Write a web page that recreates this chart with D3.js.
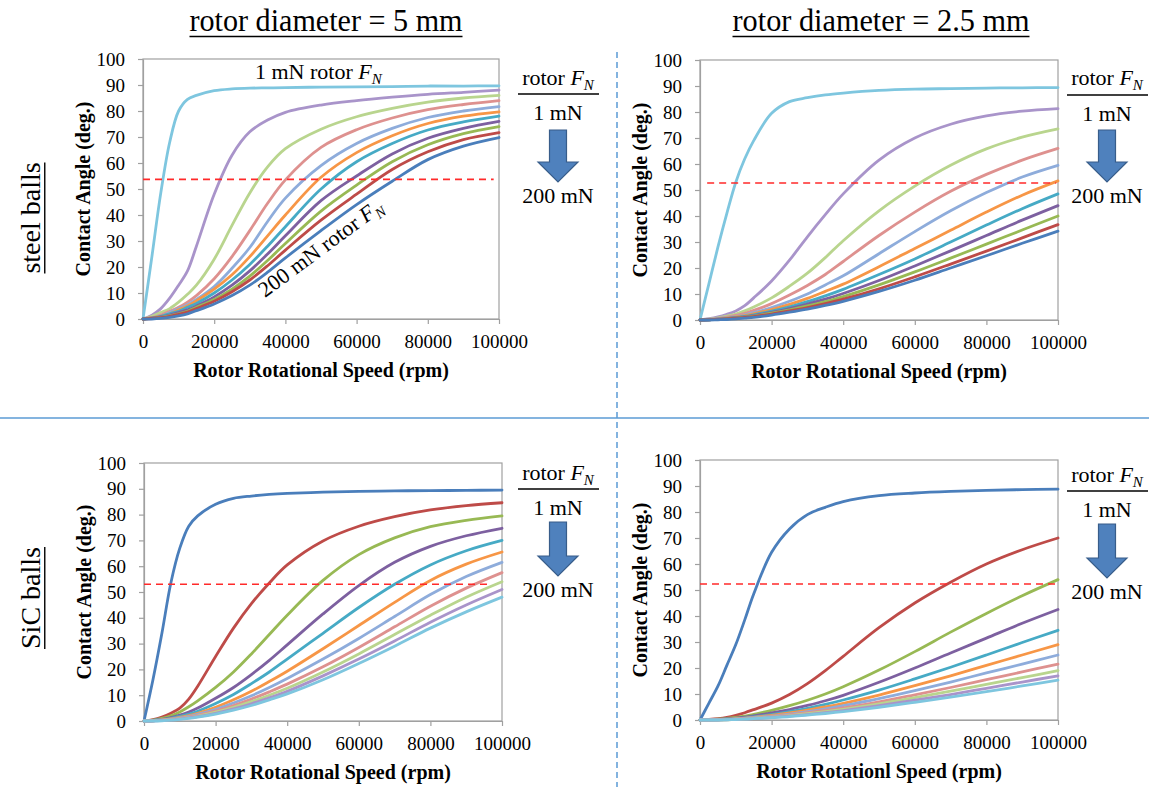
<!DOCTYPE html>
<html><head><meta charset="utf-8">
<script src="https://cdn.jsdelivr.net/npm/d3@7"></script>
<style>
body{margin:0;background:#fff}
svg{display:block}
</style>
</head><body><svg id="c" width="1149" height="787"></svg>
<script>
// ---------------- DATA ----------------
const speed = [0,2500,5000,7500,10000,12500,15000,20000,25000,30000,35000,40000,50000,60000,70000,80000,90000,100000];
const forces = ["1 mN","20 mN","40 mN","60 mN","80 mN","100 mN","120 mN","140 mN","160 mN","180 mN","200 mN"];
const xTicks = [0,20000,40000,60000,80000,100000];
const yTicks = [0,10,20,30,40,50,60,70,80,90,100];

// steel balls, rotor diameter 5 mm (1 mN ... 200 mN)
const steel5 = [
 [0,24,48.5,68,80,84.5,86,87.8,88.5,88.8,88.9,89,89.2,89.3,89.4,89.6,89.6,89.7],
 [0,1.5,4,8,13,18.5,28,48,63,72,76.5,79.5,82.3,84,85.3,86.4,87.2,88],
 [0,1,2.5,4,6.5,9.5,13,23,36,48.5,58.5,65.5,73,77.8,81,83.4,85,86],
 [0,0.5,1.5,3,4.5,6.5,9,15.5,24,34,44.5,53.5,66,72.8,77.3,80.5,82.5,84],
 [0,0.5,1,2.5,4,5.5,7.5,12.5,19.5,27.5,37.5,46.5,59,67.5,73.3,77.5,80,81.7],
 [0,0.5,1,2,3.5,5,7,11.5,17,24,32,40,54.5,64,70.5,75.2,78,79.7],
 [0,0.3,1,2,3,4.5,6,10,15,21,28,35.5,50,60.5,67.5,72.7,75.8,78],
 [0,0.3,0.8,1.5,2.5,3.5,5,8.5,13,18.5,25,32,45.5,55,63.5,69.5,73.3,76],
 [0,0.2,0.6,1.2,2,3,4.5,7.5,11.5,16.5,22.5,29,41.5,51.5,60.5,67,71.3,74],
 [0,0.2,0.5,1,1.8,2.7,4,6.8,10.5,15,20.5,26.5,38,48,57.5,64.3,69,71.7],
 [0,0,0.2,0.6,1.2,2,3.2,5.8,9,13,18,23.5,34,44,53,61.3,66.5,69.8]
];
// steel balls, rotor diameter 2.5 mm
const steel25 = [
 [0,14,28,41,53,62,69,79.5,84,85.5,86.6,87.3,88.3,88.8,89,89.2,89.3,89.4],
 [0,0.5,1.2,2.2,3.5,5.5,8.5,15,23,32,40.5,48.5,61.5,70,75.3,78.5,80.3,81.3],
 [0,0.3,0.8,1.5,2.3,3.5,5,8.5,13,18,24,30.5,42,51.5,59.5,65.8,70.3,73.5],
 [0,0.2,0.6,1.1,1.8,2.6,3.7,6.3,9.6,13.3,17.5,22.5,32.5,41.5,49.5,56,61.5,66],
 [0,0.2,0.5,0.9,1.4,2,2.8,4.8,7.2,10,13.5,17,25.5,34,42,49,55,59.5],
 [0,0.2,0.4,0.8,1.2,1.7,2.4,4,6,8.3,11,13.8,20.5,27.5,34.5,41.5,48,53.5],
 [0,0.1,0.3,0.6,1,1.4,2,3.4,5.1,7.1,9.3,11.8,17.5,23.5,30,36.5,42.8,48.5],
 [0,0.1,0.3,0.5,0.9,1.2,1.7,2.9,4.4,6.1,8,10.2,15.2,20.8,26.6,32.5,38.4,44],
 [0,0.1,0.2,0.4,0.8,1.1,1.5,2.6,3.9,5.4,7.1,9,13.5,18.5,23.8,29.2,34.6,40],
 [0,0.1,0.2,0.4,0.7,1,1.3,2.3,3.5,4.8,6.3,8,12,16.6,21.5,26.5,31.6,36.7],
 [0,0,0.1,0.2,0.4,0.7,1,1.9,3,4.2,5.6,7.2,11,15.3,20,24.7,29.5,34.2]
];
// SiC balls, rotor diameter 5 mm
const sic5 = [
 [0,16,34,53.5,67,75.5,79.5,84,86.3,87.2,87.8,88.2,88.7,89,89.2,89.3,89.4,89.5],
 [0,0.5,1.5,3,5,8.5,13.5,25,36,45.5,53.5,60.5,69.8,75.5,79.2,81.8,83.5,84.6],
 [0,0.3,1,2,3.5,5.5,7.8,13,19,26,33.5,41,54.5,64.5,71,75.3,77.8,79.5],
 [0,0.2,0.6,1.3,2.3,3.5,5,8.8,13,18,23.5,29.5,41.5,52.5,61.5,67.7,71.8,74.7],
 [0,0.2,0.5,1,1.8,2.7,3.8,6.8,10.3,14.5,19,24,34,44,53,60.5,66,70],
 [0,0.1,0.4,0.8,1.4,2.1,3,5.3,8.2,11.5,15.3,19.3,28,37,46,54.5,60.8,65.5],
 [0,0.1,0.3,0.7,1.2,1.8,2.6,4.5,7,9.8,13,16.5,24,32,40.5,49,56,61.5],
 [0,0.1,0.3,0.6,1,1.5,2.2,3.9,6,8.5,11.3,14.3,21,28.5,36.5,44.5,51.5,57.5],
 [0,0.1,0.2,0.5,0.9,1.3,1.9,3.4,5.3,7.5,10,12.7,19,26,33.5,41,48,54],
 [0,0,0.2,0.4,0.8,1.2,1.7,3,4.7,6.7,9,11.5,17.5,24,31,38.3,45,51],
 [0,0,0.1,0.3,0.6,1,1.5,2.7,4.2,6,8.2,10.5,16,22.3,29,36,42.3,48]
];
// SiC balls, rotor diameter 2.5 mm
const sic25 = [
 [0,6.5,13,21,29,38.5,48.5,64.5,73.5,79,81.8,84,86.3,87.3,87.9,88.3,88.6,88.8],
 [0,0.2,0.5,1,1.8,2.8,4,6.5,9.8,14,19,24.5,35.5,45,53,60,65.5,70],
 [0,0.1,0.3,0.6,1,1.5,2.2,3.7,5.5,7.6,10,12.8,19.2,26.3,33.8,41,47.8,54],
 [0,0.1,0.2,0.4,0.7,1.1,1.6,2.7,4,5.6,7.4,9.5,14.5,20,25.8,31.5,37.2,42.5],
 [0,0,0.1,0.3,0.5,0.8,1.2,2.1,3.2,4.5,6,7.7,11.5,15.8,20.3,25,29.8,34.5],
 [0,0,0.1,0.2,0.4,0.7,1,1.8,2.7,3.8,5,6.4,9.6,13.2,17,21,25,29],
 [0,0,0.1,0.2,0.4,0.6,0.9,1.5,2.3,3.2,4.3,5.5,8.2,11.3,14.6,18.1,21.5,25],
 [0,0,0.1,0.2,0.3,0.5,0.7,1.3,2,2.8,3.7,4.7,7,9.7,12.5,15.5,18.5,21.5],
 [0,0,0,0.1,0.3,0.4,0.6,1.1,1.7,2.4,3.2,4.1,6.2,8.6,11.1,13.7,16.3,19],
 [0,0,0,0.1,0.2,0.4,0.5,1,1.5,2.1,2.8,3.6,5.5,7.6,9.8,12.2,14.6,17],
 [0,0,0,0.1,0.2,0.3,0.5,0.9,1.3,1.9,2.5,3.2,4.9,6.8,8.8,10.9,13.1,15.3]
];
const transitionAngle = [53.7, 52.7, 53, 52.3];

// ---------------- STYLE ----------------
const C = {blue:"#4A7EBB", red:"#BE4B48", green:"#98B954", purple:"#7D60A0", aqua:"#46AAC5", orange:"#F79646",
  lblue:"#8EACDB", lred:"#DE918F", lgreen:"#B9D58E", lpurple:"#A994CA", laqua:"#7EC6DF"};
const topColors = [C.laqua,C.lpurple,C.lgreen,C.lred,C.lblue,C.orange,C.aqua,C.purple,C.green,C.red,C.blue];
const botColors = [C.blue,C.red,C.green,C.purple,C.aqua,C.orange,C.lblue,C.lred,C.lgreen,C.lpurple,C.laqua];
const FONT = "'Liberation Serif','Times New Roman',serif";
const svg = d3.select("#c").style("font-family", FONT);

const panels = [
 {data:steel5, colors:topColors, x0:143, x1:499, y0:59, y1:319, xTitle:"Rotor Rotational Speed (rpm)", dash:transitionAngle[0], dashEnd:98500},
 {data:steel25, colors:topColors, x0:700, x1:1058, y0:60, y1:320, xTitle:"Rotor Rotational Speed (rpm)", dash:transitionAngle[1], dashStart:2000, dashEnd:99500},
 {data:sic5, colors:botColors, x0:144, x1:502, y0:463, y1:721, xTitle:"Rotor Rotational Speed (rpm)", dash:transitionAngle[2], dashEnd:97000},
 {data:sic25, colors:botColors, x0:700, x1:1058, y0:460, y1:720, xTitle:"Rotor Rotationl Speed (rpm)", dash:transitionAngle[3], dashEnd:99500}
];

function txt(sel){ return sel.style("font-family", FONT).attr("fill","#000"); }

function drawPanel(p){
  const x = d3.scaleLinear().domain([0,100000]).range([p.x0,p.x1]);
  const y = d3.scaleLinear().domain([0,100]).range([p.y1,p.y0]);
  const g = svg.append("g");
  g.append("rect").attr("x",p.x0).attr("y",p.y0).attr("width",p.x1-p.x0).attr("height",p.y1-p.y0)
    .attr("fill","none").attr("stroke","#a0a0a0").attr("stroke-width",1.2);
  const ax = g.append("g").attr("transform",`translate(0,${p.y1})`)
    .call(d3.axisBottom(x).tickValues(xTicks).tickFormat(d3.format("d")).tickSizeInner(5).tickSizeOuter(0).tickPadding(11));
  const ay = g.append("g").attr("transform",`translate(${p.x0},0)`)
    .call(d3.axisLeft(y).tickValues(yTicks).tickSizeInner(5).tickSizeOuter(0).tickPadding(13));
  [ax,ay].forEach(a=>{
    a.attr("font-family",null).attr("font-size",19);
    a.select(".domain").attr("stroke","#a0a0a0").attr("stroke-width",1.2);
    a.selectAll(".tick line").attr("stroke","#a0a0a0").attr("stroke-width",1.2);
    txt(a.selectAll(".tick text"));
  });
  const line = d3.line().x((d,i)=>x(speed[i])).y(d=>y(Math.max(0,d))).curve(d3.curveCatmullRom.alpha(0.5));
  p.data.forEach((s,k)=>{
    g.append("path").attr("d",line(s)).attr("fill","none").attr("stroke",p.colors[k])
      .attr("stroke-width",2.8).attr("stroke-linejoin","round").attr("stroke-linecap","round");
  });
  g.append("line").attr("x1",x(p.dashStart||0)).attr("x2",x(p.dashEnd)).attr("y1",y(p.dash)).attr("y2",y(p.dash))
    .attr("stroke","#FF2A2A").attr("stroke-width",1.6).attr("stroke-dasharray","7,5");
  txt(g.append("text")).attr("x",(p.x0+p.x1)/2).attr("y",p.y1+58).attr("text-anchor","middle")
    .attr("font-weight","bold").attr("font-size",20).text(p.xTitle);
  txt(g.append("text")).attr("transform",`translate(${p.x0-53},${(p.y0+p.y1)/2}) rotate(-90)`).attr("text-anchor","middle")
    .attr("font-weight","bold").attr("font-size",20).text("Contact Angle (deg.)");
}
panels.forEach(drawPanel);

// force keys on right of each panel
function forceText(sel, size){
  sel.attr("font-size",size);
  sel.append("tspan").text("rotor ");
  sel.append("tspan").attr("font-style","italic").text("F");
  sel.append("tspan").attr("font-style","italic").attr("font-size",size*0.68).attr("dy",size*0.22).text("N");
}
function key(cx, yRotor, yLine, y1, aTop, aBot, y200){
  const g = svg.append("g");
  forceText(txt(g.append("text")).attr("x",cx).attr("y",yRotor).attr("text-anchor","middle"), 22);
  g.append("line").attr("x1",cx-40).attr("x2",cx+41).attr("y1",yLine).attr("y2",yLine).attr("stroke","#000").attr("stroke-width",1.5);
  txt(g.append("text")).attr("x",cx).attr("y",y1).attr("text-anchor","middle").attr("font-size",22).text("1 mN");
  const hs = 8.5, hw = 20, headTop = aBot - 20;
  g.append("path").attr("d",`M${cx-hs},${aTop}L${cx+hs},${aTop}L${cx+hs},${headTop}L${cx+hw},${headTop}L${cx},${aBot}L${cx-hw},${headTop}L${cx-hs},${headTop}Z`)
    .attr("fill","#4F81BD").attr("stroke","#385D8A").attr("stroke-width",1.2);
  txt(g.append("text")).attr("x",cx).attr("y",y200).attr("text-anchor","middle").attr("font-size",22).text("200 mN");
}
key(558, 85, 94, 120, 130, 182, 203);
key(1107, 85, 95, 121, 130, 182, 203);
key(558, 480, 489, 515, 522, 576, 597);
key(1107, 482, 491, 517, 524, 578, 599);

// annotations inside top-left panel
const t1 = txt(svg.append("text")).attr("x",255).attr("y",79).attr("font-size",22);
t1.append("tspan").text("1 mN rotor ");
t1.append("tspan").attr("font-style","italic").text("F");
t1.append("tspan").attr("font-style","italic").attr("font-size",15).attr("dy",5).text("N");
const t2 = txt(svg.append("text")).attr("transform","translate(265,298) rotate(-36.5)").attr("font-size",22);
t2.append("tspan").text("200 mN rotor ");
t2.append("tspan").attr("font-style","italic").text("F");
t2.append("tspan").attr("font-style","italic").attr("font-size",15).attr("dy",5).text("N");

// headers and row labels
function underlined(tx, ty, str, size, rot, len){
  const g = svg.append("g").attr("transform",`translate(${tx},${ty}) rotate(${rot||0})`);
  const t = txt(g.append("text")).attr("text-anchor","middle").attr("font-size",size).text(str);
  if (len) t.attr("textLength",len).attr("lengthAdjust","spacingAndGlyphs");
  const w = len || t.node().getComputedTextLength();
  g.append("line").attr("x1",-w/2).attr("x2",w/2).attr("y1",size*0.17).attr("y2",size*0.17).attr("stroke","#000").attr("stroke-width",1.4);
}
underlined(326, 31, "rotor diameter = 5 mm", 32, 0, 273);
underlined(881, 31, "rotor diameter = 2.5 mm", 32, 0, 297);
underlined(40, 218, "steel balls", 28, -90);
underlined(40, 598, "SiC balls", 28, -90);

// dividers
svg.append("line").attr("x1",0).attr("x2",1149).attr("y1",418).attr("y2",418).attr("stroke","#5B9BD5").attr("stroke-width",1.5);
svg.append("line").attr("x1",617).attr("x2",617).attr("y1",52).attr("y2",787).attr("stroke","#5B9BD5").attr("stroke-width",1.5).attr("stroke-dasharray","6,4");
</script></body></html>
